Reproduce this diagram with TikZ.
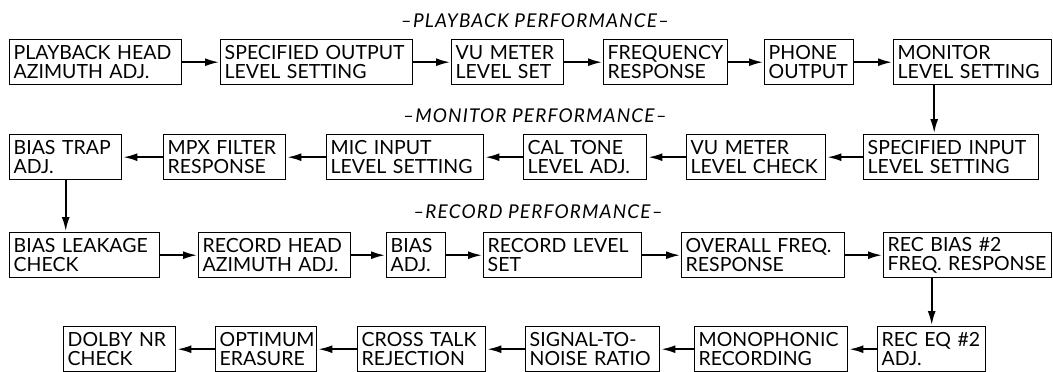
\documentclass[tikz,border=0pt]{standalone}
\usepackage{fontspec}
\setmainfont{Lato}
\usetikzlibrary{arrows.meta,positioning}

\tikzset{
  stepbox/.style={draw, line width=1.4pt, anchor=north west, minimum height=45pt,
    inner xsep=4pt, inner ysep=0pt, align=left, text width=#1,
    font=\fontsize{19.5}{19}\selectfont},
  flow/.style={line width=1.8pt, -{Latex[length=14pt,width=8pt]}, shorten >=1pt},
  rowtitle/.style={font=\fontsize{19}{20}\itshape\addfontfeatures{LetterSpace=6}}
}

\begin{document}
\begin{tikzpicture}[x=1pt, y=-1pt]
    \useasboundingbox (0,0) rectangle (1053,372);

    % playback performance
    \node[rowtitle] (pbTitle) at (535,21) {--PLAYBACK PERFORMANCE--};
    \node[stepbox=164] (pbHead)   at (9,39)   {PLAYBACK HEAD\\AZIMUTH ADJ.};
    \node[stepbox=184] (outLevel) at (220,39) {SPECIFIED OUTPUT\\LEVEL SETTING};
    \node[stepbox=104] (vuSet)    at (451,39) {VU METER\\LEVEL SET};
    \node[stepbox=116] (freqResp) at (603,39) {FREQUENCY\\RESPONSE};
    \node[stepbox=81]  (phoneOut) at (764,39) {PHONE\\OUTPUT};
    \node[stepbox=150] (monLevel) at (893,39) {MONITOR\\LEVEL SETTING};

    % monitor performance
    \node[rowtitle] (monTitle) at (535,116) {--MONITOR PERFORMANCE--};
    \node[stepbox=104] (trapAdj)  at (9,134)   {BIAS TRAP\\ADJ.};
    \node[stepbox=114] (mpxFilt)  at (163,134) {MPX FILTER\\RESPONSE};
    \node[stepbox=149] (micLevel) at (326,134) {MIC INPUT\\LEVEL SETTING};
    \node[stepbox=115] (calTone)  at (523,134) {CAL TONE\\LEVEL ADJ.};
    \node[stepbox=131] (vuCheck)  at (686,134) {VU METER\\LEVEL CHECK};
    \node[stepbox=167] (inLevel)  at (863,134) {SPECIFIED INPUT\\LEVEL SETTING};

    % record performance
    \node[rowtitle] (recTitle) at (538,212) {--RECORD PERFORMANCE--};
    \node[stepbox=142] (leakChk)  at (9,232)   {BIAS LEAKAGE\\CHECK};
    \node[stepbox=144] (recHead)  at (198,232) {RECORD~HEAD\\AZIMUTH~ADJ.};
    \node[stepbox=51]  (biasAdj)  at (386,232) {BIAS\\ADJ.};
    \node[stepbox=150] (recLevel) at (483,232) {RECORD LEVEL\\SET};
    \node[stepbox=155] (overall)  at (681,232) {OVERALL FREQ.\\RESPONSE};
    \node[stepbox=160] (recBias)  at (883,232) {REC BIAS \#2\\FREQ. RESPONSE};

    % last row
    \node[stepbox=104] (dolby)   at (63,326)  {DOLBY NR\\CHECK};
    \node[stepbox=93]  (erasure) at (215,326) {OPTIMUM\\ERASURE};
    \node[stepbox=120] (xtalk)   at (357,326) {CROSS TALK\\REJECTION};
    \node[stepbox=126] (snr)     at (525,326) {SIGNAL-TO-\\NOISE RATIO};
    \node[stepbox=145] (mono)    at (694,326) {MONOPHONIC\\RECORDING};
    \node[stepbox=100] (recEq)   at (877,326) {REC EQ \#2\\ADJ.};

    % connectors
    \draw[flow] (pbHead) -- (outLevel);
    \draw[flow] (outLevel) -- (vuSet);
    \draw[flow] (vuSet) -- (freqResp);
    \draw[flow] (freqResp) -- (phoneOut);
    \draw[flow] (phoneOut) -- (monLevel);
    \draw[flow] ([xshift=-17pt]inLevel.north |- monLevel.south) -- ([xshift=-17pt]inLevel.north);
    \draw[flow] (inLevel) -- (vuCheck);
    \draw[flow] (vuCheck) -- (calTone);
    \draw[flow] (calTone) -- (micLevel);
    \draw[flow] (micLevel) -- (mpxFilt);
    \draw[flow] (mpxFilt) -- (trapAdj);
    \draw[flow] (trapAdj.south) -- (trapAdj.south |- leakChk.north);
    \draw[flow] (leakChk) -- (recHead);
    \draw[flow] (recHead) -- (biasAdj);
    \draw[flow] (biasAdj) -- (recLevel);
    \draw[flow] (recLevel) -- (overall);
    \draw[flow] (overall) -- (recBias);
    \draw[flow] (recBias.south -| recEq.north) -- (recEq.north);
    \draw[flow] (recEq) -- (mono);
    \draw[flow] (mono) -- (snr);
    \draw[flow] (snr) -- (xtalk);
    \draw[flow] (xtalk) -- (erasure);
    \draw[flow] (erasure) -- (dolby);
\end{tikzpicture}
\end{document}
